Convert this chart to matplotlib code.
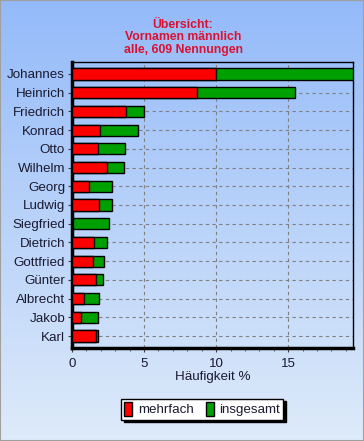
import numpy as np
import matplotlib
matplotlib.use('Agg')
import matplotlib.pyplot as plt
from matplotlib.patches import Rectangle
from matplotlib.ticker import MultipleLocator

# Häufigkeit in Prozent
names = ['Johannes', 'Heinrich', 'Friedrich', 'Konrad', 'Otto', 'Wilhelm', 'Georg',
         'Ludwig', 'Siegfried', 'Dietrich', 'Gottfried', 'Günter', 'Albrecht',
         'Jakob', 'Karl']
mehrfach = [10.0, 8.65, 3.75, 1.95, 1.8, 2.4, 1.15, 1.85, 0.1, 1.5, 1.45, 1.7,
            0.85, 0.6, 1.7]
insgesamt = [19.5, 15.5, 5.0, 4.55, 3.7, 3.6, 2.75, 2.75, 2.6, 2.4, 2.25, 2.15,
             1.9, 1.8, 1.8]

plt.rcParams['font.family'] = ['Liberation Sans', 'DejaVu Sans']
txt = '#1a1a30'

fig = plt.figure(figsize=(3.64, 4.41), dpi=100)

# background gradient over the whole figure
bg = fig.add_axes([0, 0, 1, 1], zorder=-10)
top = np.array([0.58, 0.73, 0.98])
bottom = np.array([0.87, 0.92, 0.98])
t = np.linspace(0, 1, 256)[:, None]
grad = top * (1 - t) + bottom * t
bg.imshow(grad[:, None, :].repeat(2, axis=1), aspect='auto', extent=[0, 1, 0, 1])
bg.axis('off')
fig.patches.append(Rectangle((0, 0), 1, 1, transform=fig.transFigure, fill=False,
                             edgecolor='#a0a0a0', linewidth=1.5))

ax = fig.add_axes([72 / 364, 93 / 441, 281 / 364, 286 / 441])
ax.set_facecolor('none')

y = np.arange(len(names))
h = 0.6
ax.barh(y, insgesamt, height=h, color='#00a000', edgecolor='black', linewidth=1,
        label='insgesamt', zorder=3)
ax.barh(y, mehrfach, height=h, color='#ff0000', edgecolor='black', linewidth=1,
        label='mehrfach', zorder=4)

ax.set_xlim(0, 19.5)
ax.set_ylim(len(names) - 0.36, -0.64)
ax.set_yticks(y)
ax.set_yticklabels(names, fontsize=9.6, color=txt)
ax.xaxis.set_major_locator(MultipleLocator(5))
ax.xaxis.set_minor_locator(MultipleLocator(1))
ax.tick_params(axis='x', labelsize=9.6, labelcolor=txt, length=3, pad=4,
               color='#404040')
ax.tick_params(axis='x', which='minor', length=2.5, color='#404040')
ax.tick_params(axis='y', length=3, pad=2, color='#404040')

ax.grid(True, axis='both', linestyle=(0, (3, 3)), color='#808080', linewidth=0.8,
        zorder=0)
ax.set_axisbelow(True)

for s in ['left', 'bottom']:
    ax.spines[s].set_linewidth(2.5)
for s in ['top', 'right']:
    ax.spines[s].set_linewidth(1)

ax.set_xlabel('Häufigkeit %', fontsize=9.6, color=txt, labelpad=1)

fig.text(183 / 364, 1 - 19 / 441,
         'Übersicht:\nVornamen männlich\nalle, 609 Nennungen',
         ha='center', va='top', color='#dd1030', fontsize=8.8, fontweight='bold',
         linespacing=1.05)

handles, labels = ax.get_legend_handles_labels()
leg = fig.legend(handles[::-1], labels[::-1], loc='center', ncol=2,
                 bbox_to_anchor=(202 / 364, 1 - 409 / 441), fontsize=9.6,
                 frameon=True, fancybox=False, edgecolor='black',
                 handlelength=0.6, handleheight=1.2, handletextpad=0.4,
                 columnspacing=0.9, borderpad=0.25,
                 shadow={'color': 'black', 'alpha': 1})
leg.get_frame().set_linewidth(1)
for tx in leg.get_texts():
    tx.set_color(txt)

fig.savefig('out.png', dpi=100)
